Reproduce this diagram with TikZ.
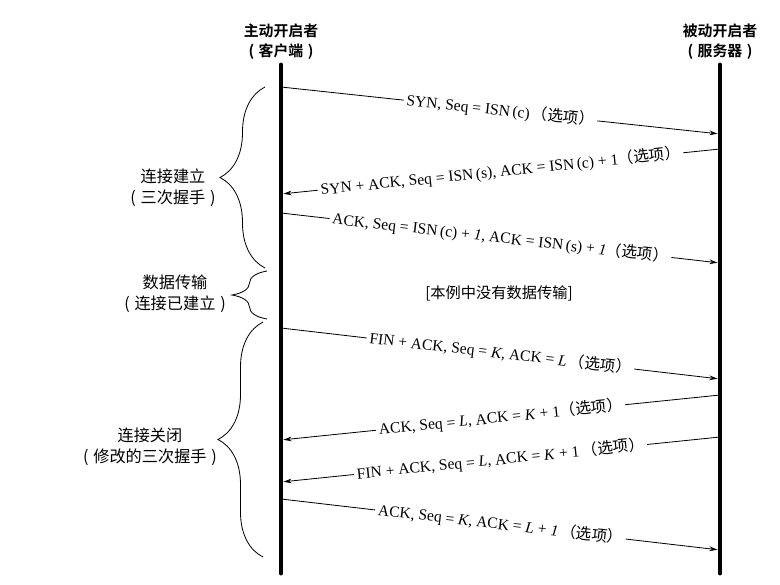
\documentclass[tikz,border=0pt]{standalone}
\usepackage{fontspec}
\setmainfont{Liberation Serif}
\newfontfamily\cjk{Noto Sans CJK SC}[BoldFont={Noto Sans CJK SC Bold}]
\usetikzlibrary{arrows.meta,decorations.pathreplacing}

\newcommand{\opt}{{\cjk （选项）}}
\newcommand{\kuo}[1]{(\hspace{0.3em}#1\hspace{0.3em})}

\begin{document}
\begin{tikzpicture}[x=0.03cm,y=-0.03cm,
  lifeline/.style={line width=4.25pt,line cap=round},
  msg/.style={-{Stealth[length=7pt,width=4pt]},line width=0.7pt,shorten >=2.1pt},
  lbl/.style={midway,sloped,fill=white,inner sep=2.5pt,font=\fontsize{13.3}{15}\selectfont},
  hdr/.style={align=center,font=\cjk\bfseries\fontsize{12.7}{17}\selectfont},
  phase/.style={align=center,font=\cjk\fontsize{13.8}{18}\selectfont},
  brc/.style={decorate,decoration={brace,amplitude=#1},line width=0.7pt}]

\useasboundingbox (0,0) rectangle (780,585);

% ends
\node[hdr] (cli) at (281,42) {主动开启者\\\kuo{客户端}};
\node[hdr] (srv) at (720,42) {被动开启者\\\kuo{服务器}};

\coordinate (ctop) at (281,65);
\coordinate (cbot) at (281,573);
\coordinate (stop) at (720,65);
\coordinate (sbot) at (720,573);

\draw[lifeline] (ctop) -- (cbot);
\draw[lifeline] (stop) -- (sbot);

% Verbindungsaufbau
\coordinate (c1) at (281,87);  \coordinate (s1) at (720,134);
\coordinate (s2) at (720,149); \coordinate (c2) at (281,194);
\coordinate (c3) at (281,213); \coordinate (s3) at (720,263);

\draw[msg] (c1) -- node[lbl] {SYN, Seq = ISN\,(c)\,\opt} (s1);
\draw[msg] (s2) -- node[lbl] {SYN + ACK, Seq = ISN\,(s), ACK = ISN\,(c) + 1\opt} (c2);
\draw[msg] (c3) -- node[lbl] {ACK, Seq = ISN\,(c) + \textit{1}, ACK = ISN\,(s) + \textit{1}\opt} (s3);

\node[font=\cjk\fontsize{13}{15}\selectfont] (nodata) at (499,293) {[本例中没有数据传输]};

% Verbindungsabbau
\coordinate (c4) at (281,328); \coordinate (s4) at (720,379);
\coordinate (s5) at (720,395); \coordinate (c5) at (281,440);
\coordinate (s6) at (720,437); \coordinate (c6) at (281,482);
\coordinate (c7) at (281,499); \coordinate (s7) at (720,550);

\draw[msg] (c4) -- node[lbl] {FIN + ACK, Seq = \textit{K}, ACK = \textit{L}\,\opt} (s4);
\draw[msg] (s5) -- node[lbl] {ACK, Seq = \textit{L}, ACK = \textit{K} + 1\opt} (c5);
\draw[msg] (s6) -- node[lbl] {FIN + ACK, Seq = \textit{L}, ACK = \textit{K} + 1\,\opt} (c6);
\draw[msg] (c7) -- node[lbl] {ACK, Seq = \textit{K}, ACK = \textit{L} + \textit{1}\,\opt} (s7);

% Klammern
\draw[brc=1.35cm] (265,268) -- (265,87);
\draw[brc=1.05cm] (267,319) -- (267,271);
\draw[brc=1.35cm] (263,557) -- (263,322);

\node[phase] (setup) at (173,188) {连接建立\\\kuo{三次握手}};
\node[phase] (xfer) at (175,294) {数据传输\\\kuo{连接已建立}};
\node[phase] (close) at (150,447) {连接关闭\\\kuo{修改的三次握手}};

\end{tikzpicture}
\end{document}
